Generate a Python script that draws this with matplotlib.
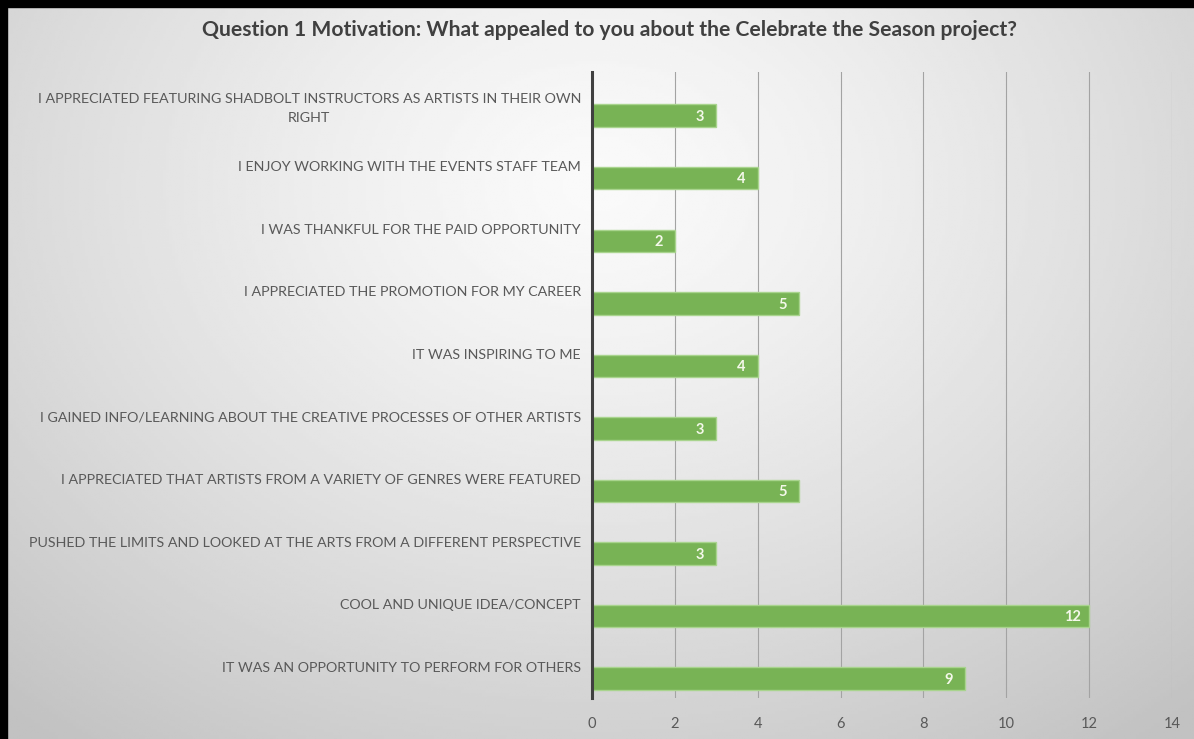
import numpy as np
from matplotlib import pyplot as plt

# data, top to bottom as in the chart
categories = [
    "I APPRECIATED FEATURING SHADBOLT INSTRUCTORS AS ARTISTS IN THEIR OWN\nRIGHT",
    "I ENJOY WORKING WITH THE EVENTS STAFF TEAM",
    "I WAS THANKFUL FOR THE PAID OPPORTUNITY",
    "I APPRECIATED THE PROMOTION FOR MY CAREER",
    "IT WAS INSPIRING TO ME",
    "I GAINED INFO/LEARNING ABOUT THE CREATIVE PROCESSES OF OTHER ARTISTS",
    "I APPRECIATED THAT ARTISTS FROM A VARIETY OF GENRES WERE FEATURED",
    "PUSHED THE LIMITS AND LOOKED AT THE ARTS FROM A DIFFERENT PERSPECTIVE",
    "COOL AND UNIQUE IDEA/CONCEPT",
    "IT WAS AN OPPORTUNITY TO PERFORM FOR OTHERS",
]
counts = [3, 4, 2, 5, 4, 3, 5, 3, 12, 9]
x_ticks = [0, 2, 4, 6, 8, 10, 12, 14]

title = "Question 1 Motivation: What appealed to you about the Celebrate the Season project?"

plt.rcParams['font.family'] = ['Lato', 'DejaVu Sans']

fig = plt.figure(figsize=(11.94, 7.39), dpi=100)

# grey radial gradient background
bg = fig.add_axes([0, 0, 1, 1], zorder=-10)
gx, gy = np.meshgrid(np.linspace(0, 1, 400), np.linspace(0, 1, 250))
r = np.sqrt(((gx - 0.5) / 0.75) ** 2 + ((gy - 0.25) / 0.95) ** 2)
shade = np.clip(0.98 - 0.22 * r ** 1.3, 0.76, 0.98)
bg.imshow(shade, cmap='gray', vmin=0, vmax=1, extent=[0, 1, 0, 1],
          aspect='auto', origin='upper')
bg.set_xlim(0, 1)
bg.set_ylim(0, 1)
bg.axis('off')
# black frame on top and left edge
bg.axhspan(1 - 7 / 739, 1, color='black')
bg.axvspan(0, 7 / 1194, color='black')

ax = fig.add_axes([592 / 1194, 41 / 739, 580 / 1194, 625.5 / 739])
ax.patch.set_alpha(0)

pos = np.arange(len(categories))
ax.barh(pos + 0.19, counts, height=0.36, color='#78b355',
        edgecolor='#a9d48e', linewidth=1, zorder=3)
for p, v in zip(pos, counts):
    ax.text(v - 0.4, p + 0.21, str(v), ha='center', va='center',
            color='#f4f8ea', fontsize=10.5, fontweight='bold', zorder=4)

ax.set_ylim(len(categories) - 0.5, -0.5)
ax.set_xlim(0, 14)
ax.set_yticks(pos)
ax.set_yticklabels(categories, fontsize=10.3, color='#595959',
                   multialignment='center', linespacing=1.75)
ax.set_xticks(x_ticks)
ax.set_xticklabels([str(t) for t in x_ticks], fontsize=10.5, color='#595959')
ax.tick_params(axis='both', length=0)
ax.tick_params(axis='y', pad=8)
ax.tick_params(axis='x', pad=14)

ax.grid(axis='x', color='#a3a3a3', linewidth=0.8, zorder=0)
ax.set_axisbelow(True)
for s in ['top', 'right', 'bottom']:
    ax.spines[s].set_visible(False)
ax.spines['left'].set_color('#404040')
ax.spines['left'].set_linewidth(2.2)
ax.spines['left'].set_zorder(5)

fig.text(609 / 1194, 1 - 30 / 739, title, ha='center', va='center',
         fontsize=15.2, fontweight='bold', color='#404040')

plt.savefig("out.png", dpi=100)
